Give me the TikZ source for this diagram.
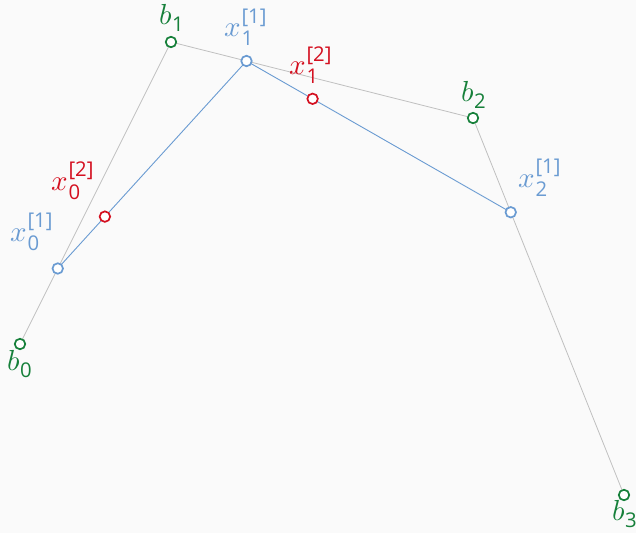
\documentclass[tikz,border=0pt]{standalone}
\usepackage{amsmath}
\usepackage{fontspec}
\usepackage{unicode-math}
\setmathfont{Latin Modern Math}
\setsansfont{Open Sans}
\definecolor{bgc}{HTML}{FAFAFA}
\definecolor{cgreen}{RGB}{22,128,58}
\definecolor{cblue}{RGB}{106,155,210}
\definecolor{cred}{RGB}{212,16,32}
\definecolor{cgray}{RGB}{192,192,192}
\newcommand{\dg}[1]{\text{\sffamily #1}}
\tikzset{
  x=1pt, y=-1pt,
  pt/.style={circle, draw=#1, fill=white, line width=1.7pt, inner sep=0pt, minimum size=10.5pt},
  lbl/.style={text=#1, inner sep=1pt, font=\fontsize{29}{33}\selectfont},
  ctrl/.style={draw=cgray, line width=0.8pt},
  lvl/.style={draw=cblue, line width=0.9pt},
}
\begin{document}
\begin{tikzpicture}
\fill[bgc] (0,0) rectangle (636,533);
\useasboundingbox (0,0) rectangle (636,533);
\coordinate (B0) at (20,344);
\coordinate (B1) at (171,42);
\coordinate (B2) at (473,118);
\coordinate (B3) at (624,495);
\coordinate (X0) at (57.75,268.5);
\coordinate (X1) at (246.5,61);
\coordinate (X2) at (510.75,212.25);
\coordinate (Y0) at (104.9,216.6);
\coordinate (Y1) at (312.6,98.8);
\draw[ctrl] (B0) -- (B1) -- (B2) -- (B3);
\draw[lvl] (X0) -- (X1) -- (X2);
\node[pt=cgreen] (b0) at (B0) {};
\node[pt=cgreen] (b1) at (B1) {};
\node[pt=cgreen] (b2) at (B2) {};
\node[pt=cgreen] (b3) at (B3) {};
\node[pt=cblue] (x0) at (X0) {};
\node[pt=cblue] (x1) at (X1) {};
\node[pt=cblue] (x2) at (X2) {};
\node[pt=cred] (y0) at (Y0) {};
\node[pt=cred] (y1) at (Y1) {};
\node[lbl=cgreen] (lb0) at (20,364) {$b_{\dg{0}}$};
\node[lbl=cgreen] (lb1) at (172,18) {$b_{\dg{1}}$};
\node[lbl=cgreen] (lb2) at (474,95) {$b_{\dg{2}}$};
\node[lbl=cgreen] (lb3) at (625,514) {$b_{\dg{3}}$};
\node[lbl=cblue] (lx0) at (32,232) {$x_{\dg{0}}^{\dg{[1]}}$};
\node[lbl=cblue] (lx1) at (246,27) {$x_{\dg{1}}^{\dg{[1]}}$};
\node[lbl=cblue] (lx2) at (540,178) {$x_{\dg{2}}^{\dg{[1]}}$};
\node[lbl=cred] (ly0) at (73,181) {$x_{\dg{0}}^{\dg{[2]}}$};
\node[lbl=cred] (ly1) at (311,65) {$x_{\dg{1}}^{\dg{[2]}}$};
\end{tikzpicture}
\end{document}
